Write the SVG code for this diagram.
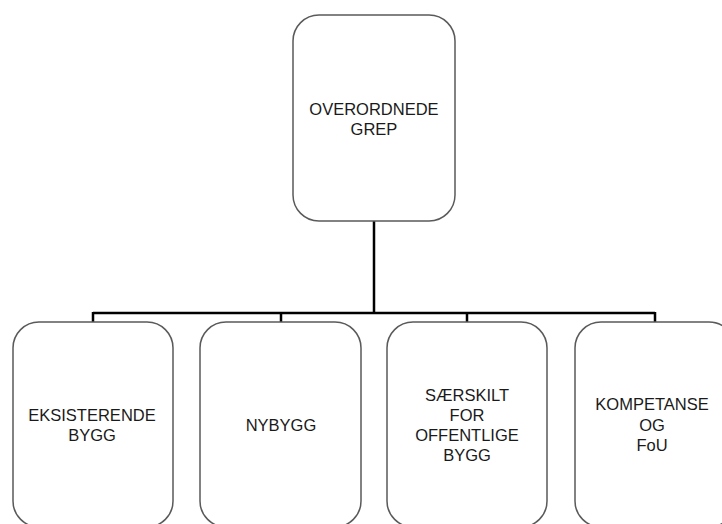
<svg xmlns="http://www.w3.org/2000/svg" width="722" height="524" viewBox="0 0 722 524">
<style>
.box{fill:#fff;stroke:#5a5a5a;stroke-width:1.5}
.lbl{font-family:"Liberation Sans",Arial,sans-serif;font-size:16.5px;fill:#1a1a1a;text-anchor:middle}
.conn{fill:none;stroke:#000;stroke-width:2.5}
</style>
<rect width="722" height="524" fill="#fff"/>
<g id="connectors">
<path class="conn" d="M374 221V313M93 313H655M93 312V322M281 312V322M467 312V322M655 312V322"/>
</g>
<g id="node-overordnede">
<rect class="box" x="293" y="15" width="162" height="206" rx="26"/>
<text class="lbl" x="374" y="115">OVERORDNEDE</text>
<text class="lbl" x="374" y="135">GREP</text>
</g>
<g id="node-eksisterende">
<rect class="box" x="13" y="322" width="160" height="205" rx="26"/>
<text class="lbl" x="92" y="421">EKSISTERENDE</text>
<text class="lbl" x="92" y="441">BYGG</text>
</g>
<g id="node-nybygg">
<rect class="box" x="200" y="322" width="161" height="205" rx="26"/>
<text class="lbl" x="281" y="431">NYBYGG</text>
</g>
<g id="node-saerskilt">
<rect class="box" x="387" y="322" width="160" height="205" rx="26"/>
<text class="lbl" x="467" y="401">SÆRSKILT</text>
<text class="lbl" x="467" y="421">FOR</text>
<text class="lbl" x="467" y="441">OFFENTLIGE</text>
<text class="lbl" x="467" y="461">BYGG</text>
</g>
<g id="node-kompetanse">
<rect class="box" x="575" y="322" width="160" height="205" rx="26"/>
<text class="lbl" x="652" y="410">KOMPETANSE</text>
<text class="lbl" x="652" y="431">OG</text>
<text class="lbl" x="652" y="451">FoU</text>
</g>
</svg>
